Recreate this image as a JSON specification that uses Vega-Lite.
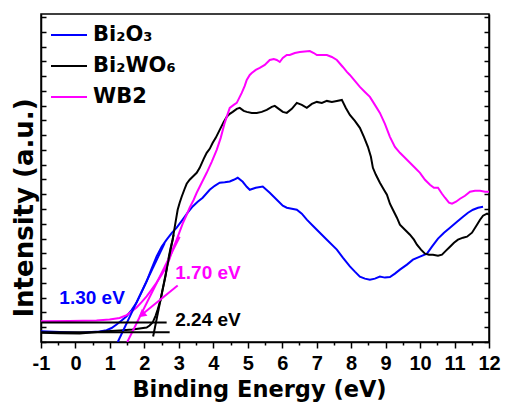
{
  "$schema": "https://vega.github.io/schema/vega-lite/v6.json",
  "width": 448,
  "height": 328,
  "autosize": "none",
  "padding": {"left": 41, "top": 14, "right": 16, "bottom": 61},
  "background": "white",
  "config": {"view": {"stroke": "black", "strokeWidth": 1.5}},
  "datasets": {
    "curves": [
      {"s":"Bi₂O₃","x":-1,"y":3.65},{"s":"Bi₂O₃","x":-0.463,"y":3.38},{"s":"Bi₂O₃","x":0.119,"y":3.11},{"s":"Bi₂O₃","x":0.7,"y":3.55},{"s":"Bi₂O₃","x":0.903,"y":3.99},{"s":"Bi₂O₃","x":1.048,"y":4.73},{"s":"Bi₂O₃","x":1.193,"y":5.91},{"s":"Bi₂O₃","x":1.339,"y":7.26},{"s":"Bi₂O₃","x":1.484,"y":8.72},{"s":"Bi₂O₃","x":1.629,"y":10.81},{"s":"Bi₂O₃","x":1.774,"y":13.34},{"s":"Bi₂O₃","x":1.919,"y":16.89},{"s":"Bi₂O₃","x":2.065,"y":20.54},{"s":"Bi₂O₃","x":2.21,"y":24.83},{"s":"Bi₂O₃","x":2.355,"y":28.99},{"s":"Bi₂O₃","x":2.501,"y":32.26},{"s":"Bi₂O₃","x":2.646,"y":34.63},{"s":"Bi₂O₃","x":2.791,"y":36.82},{"s":"Bi₂O₃","x":2.937,"y":38.68},{"s":"Bi₂O₃","x":3.111,"y":41.39},{"s":"Bi₂O₃","x":3.256,"y":43.75},{"s":"Bi₂O₃","x":3.402,"y":45.88},{"s":"Bi₂O₃","x":3.547,"y":47.47},{"s":"Bi₂O₃","x":3.692,"y":48.82},{"s":"Bi₂O₃","x":3.896,"y":51.52},{"s":"Bi₂O₃","x":4.041,"y":52.87},{"s":"Bi₂O₃","x":4.186,"y":53.89},{"s":"Bi₂O₃","x":4.331,"y":54.05},{"s":"Bi₂O₃","x":4.477,"y":54.32},{"s":"Bi₂O₃","x":4.593,"y":54.9},{"s":"Bi₂O₃","x":4.709,"y":55.57},{"s":"Bi₂O₃","x":4.854,"y":54.22},{"s":"Bi₂O₃","x":4.97,"y":52.53},{"s":"Bi₂O₃","x":5.058,"y":51.52},{"s":"Bi₂O₃","x":5.232,"y":52.2},{"s":"Bi₂O₃","x":5.435,"y":52.64},{"s":"Bi₂O₃","x":5.638,"y":50.51},{"s":"Bi₂O₃","x":5.842,"y":48.14},{"s":"Bi₂O₃","x":6.016,"y":46.11},{"s":"Bi₂O₃","x":6.132,"y":45.44},{"s":"Bi₂O₃","x":6.278,"y":45.1},{"s":"Bi₂O₃","x":6.423,"y":44.76},{"s":"Bi₂O₃","x":6.568,"y":43.41},{"s":"Bi₂O₃","x":6.713,"y":41.39},{"s":"Bi₂O₃","x":6.888,"y":39.36},{"s":"Bi₂O₃","x":7.091,"y":36.99},{"s":"Bi₂O₃","x":7.295,"y":34.63},{"s":"Bi₂O₃","x":7.585,"y":31.25},{"s":"Bi₂O₃","x":7.759,"y":28.55},{"s":"Bi₂O₃","x":7.963,"y":25.61},{"s":"Bi₂O₃","x":8.108,"y":23.82},{"s":"Bi₂O₃","x":8.253,"y":22.13},{"s":"Bi₂O₃","x":8.399,"y":21.45},{"s":"Bi₂O₃","x":8.544,"y":21.11},{"s":"Bi₂O₃","x":8.689,"y":21.45},{"s":"Bi₂O₃","x":8.834,"y":22.13},{"s":"Bi₂O₃","x":8.98,"y":21.79},{"s":"Bi₂O₃","x":9.125,"y":21.96},{"s":"Bi₂O₃","x":9.27,"y":23.14},{"s":"Bi₂O₃","x":9.415,"y":24.49},{"s":"Bi₂O₃","x":9.619,"y":26.18},{"s":"Bi₂O₃","x":9.793,"y":27.87},{"s":"Bi₂O₃","x":9.997,"y":28.89},{"s":"Bi₂O₃","x":10.2,"y":29.9},{"s":"Bi₂O₃","x":10.345,"y":32.26},{"s":"Bi₂O₃","x":10.52,"y":34.97},{"s":"Bi₂O₃","x":10.694,"y":36.99},{"s":"Bi₂O₃","x":10.868,"y":38.68},{"s":"Bi₂O₃","x":11.072,"y":40.71},{"s":"Bi₂O₃","x":11.246,"y":42.4},{"s":"Bi₂O₃","x":11.391,"y":43.75},{"s":"Bi₂O₃","x":11.536,"y":44.76},{"s":"Bi₂O₃","x":11.682,"y":45.44},{"s":"Bi₂O₃","x":11.827,"y":45.78},
      {"s":"Bi₂WO₆","x":-1,"y":3.11},{"s":"Bi₂WO₆","x":-0.463,"y":2.94},{"s":"Bi₂WO₆","x":0.119,"y":2.87},{"s":"Bi₂WO₆","x":0.903,"y":3.65},{"s":"Bi₂WO₆","x":1.281,"y":3.89},{"s":"Bi₂WO₆","x":1.658,"y":4.22},{"s":"Bi₂WO₆","x":1.862,"y":4.56},{"s":"Bi₂WO₆","x":2.065,"y":4.9},{"s":"Bi₂WO₆","x":2.152,"y":5.57},{"s":"Bi₂WO₆","x":2.239,"y":6.59},{"s":"Bi₂WO₆","x":2.327,"y":8.95},{"s":"Bi₂WO₆","x":2.385,"y":10.98},{"s":"Bi₂WO₆","x":2.472,"y":14.36},{"s":"Bi₂WO₆","x":2.53,"y":17.74},{"s":"Bi₂WO₆","x":2.617,"y":22.47},{"s":"Bi₂WO₆","x":2.675,"y":26.86},{"s":"Bi₂WO₆","x":2.762,"y":31.93},{"s":"Bi₂WO₆","x":2.82,"y":34.63},{"s":"Bi₂WO₆","x":2.907,"y":40.71},{"s":"Bi₂WO₆","x":2.966,"y":44.76},{"s":"Bi₂WO₆","x":3.024,"y":47.13},{"s":"Bi₂WO₆","x":3.082,"y":49.16},{"s":"Bi₂WO₆","x":3.169,"y":51.86},{"s":"Bi₂WO₆","x":3.227,"y":53.55},{"s":"Bi₂WO₆","x":3.314,"y":54.9},{"s":"Bi₂WO₆","x":3.431,"y":56.25},{"s":"Bi₂WO₆","x":3.518,"y":57.26},{"s":"Bi₂WO₆","x":3.605,"y":58.95},{"s":"Bi₂WO₆","x":3.721,"y":61.99},{"s":"Bi₂WO₆","x":3.808,"y":64.02},{"s":"Bi₂WO₆","x":3.896,"y":65.37},{"s":"Bi₂WO₆","x":3.983,"y":67.4},{"s":"Bi₂WO₆","x":4.07,"y":69.09},{"s":"Bi₂WO₆","x":4.186,"y":71.79},{"s":"Bi₂WO₆","x":4.302,"y":74.49},{"s":"Bi₂WO₆","x":4.389,"y":76.18},{"s":"Bi₂WO₆","x":4.477,"y":77.2},{"s":"Bi₂WO₆","x":4.564,"y":77.87},{"s":"Bi₂WO₆","x":4.68,"y":78.89},{"s":"Bi₂WO₆","x":4.767,"y":79.22},{"s":"Bi₂WO₆","x":4.883,"y":78.21},{"s":"Bi₂WO₆","x":4.97,"y":77.87},{"s":"Bi₂WO₆","x":5.116,"y":77.53},{"s":"Bi₂WO₆","x":5.261,"y":77.53},{"s":"Bi₂WO₆","x":5.406,"y":77.87},{"s":"Bi₂WO₆","x":5.551,"y":78.55},{"s":"Bi₂WO₆","x":5.697,"y":79.56},{"s":"Bi₂WO₆","x":5.784,"y":79.9},{"s":"Bi₂WO₆","x":5.9,"y":78.89},{"s":"Bi₂WO₆","x":6.016,"y":77.87},{"s":"Bi₂WO₆","x":6.132,"y":77.53},{"s":"Bi₂WO₆","x":6.278,"y":78.89},{"s":"Bi₂WO₆","x":6.423,"y":80.91},{"s":"Bi₂WO₆","x":6.568,"y":80.24},{"s":"Bi₂WO₆","x":6.713,"y":79.22},{"s":"Bi₂WO₆","x":6.859,"y":80.57},{"s":"Bi₂WO₆","x":7.004,"y":81.25},{"s":"Bi₂WO₆","x":7.149,"y":80.91},{"s":"Bi₂WO₆","x":7.295,"y":81.59},{"s":"Bi₂WO₆","x":7.44,"y":81.25},{"s":"Bi₂WO₆","x":7.585,"y":81.59},{"s":"Bi₂WO₆","x":7.73,"y":81.93},{"s":"Bi₂WO₆","x":7.846,"y":79.22},{"s":"Bi₂WO₆","x":7.963,"y":76.86},{"s":"Bi₂WO₆","x":8.108,"y":74.83},{"s":"Bi₂WO₆","x":8.253,"y":72.47},{"s":"Bi₂WO₆","x":8.37,"y":69.43},{"s":"Bi₂WO₆","x":8.486,"y":66.05},{"s":"Bi₂WO₆","x":8.573,"y":62.67},{"s":"Bi₂WO₆","x":8.631,"y":58.95},{"s":"Bi₂WO₆","x":8.718,"y":56.59},{"s":"Bi₂WO₆","x":8.834,"y":53.89},{"s":"Bi₂WO₆","x":8.951,"y":51.52},{"s":"Bi₂WO₆","x":9.038,"y":49.83},{"s":"Bi₂WO₆","x":9.125,"y":46.79},{"s":"Bi₂WO₆","x":9.212,"y":44.76},{"s":"Bi₂WO₆","x":9.328,"y":42.06},{"s":"Bi₂WO₆","x":9.415,"y":39.7},{"s":"Bi₂WO₆","x":9.561,"y":38.01},{"s":"Bi₂WO₆","x":9.706,"y":36.32},{"s":"Bi₂WO₆","x":9.822,"y":34.63},{"s":"Bi₂WO₆","x":9.909,"y":32.94},{"s":"Bi₂WO₆","x":10.026,"y":31.25},{"s":"Bi₂WO₆","x":10.142,"y":29.9},{"s":"Bi₂WO₆","x":10.258,"y":29.56},{"s":"Bi₂WO₆","x":10.374,"y":29.56},{"s":"Bi₂WO₆","x":10.52,"y":29.22},{"s":"Bi₂WO₆","x":10.636,"y":29.56},{"s":"Bi₂WO₆","x":10.752,"y":30.91},{"s":"Bi₂WO₆","x":10.868,"y":32.26},{"s":"Bi₂WO₆","x":10.984,"y":33.61},{"s":"Bi₂WO₆","x":11.1,"y":34.63},{"s":"Bi₂WO₆","x":11.246,"y":35.3},{"s":"Bi₂WO₆","x":11.362,"y":35.64},{"s":"Bi₂WO₆","x":11.507,"y":36.99},{"s":"Bi₂WO₆","x":11.652,"y":39.7},{"s":"Bi₂WO₆","x":11.74,"y":41.39},{"s":"Bi₂WO₆","x":11.827,"y":42.74},{"s":"Bi₂WO₆","x":11.943,"y":43.41},{"s":"Bi₂WO₆","x":12,"y":43.07},
      {"s":"WB2","x":-1,"y":6.99},{"s":"WB2","x":-0.172,"y":7.09},{"s":"WB2","x":0.612,"y":7.26},{"s":"WB2","x":0.99,"y":7.6},{"s":"WB2","x":1.281,"y":8.11},{"s":"WB2","x":1.484,"y":9.12},{"s":"WB2","x":1.629,"y":10.3},{"s":"WB2","x":1.774,"y":11.66},{"s":"WB2","x":1.919,"y":13.51},{"s":"WB2","x":2.065,"y":15.47},{"s":"WB2","x":2.21,"y":17.74},{"s":"WB2","x":2.355,"y":20.1},{"s":"WB2","x":2.501,"y":22.8},{"s":"WB2","x":2.646,"y":25.61},{"s":"WB2","x":2.733,"y":28.21},{"s":"WB2","x":2.82,"y":31.25},{"s":"WB2","x":2.937,"y":34.63},{"s":"WB2","x":3.024,"y":37.33},{"s":"WB2","x":3.111,"y":40.03},{"s":"WB2","x":3.227,"y":43.07},{"s":"WB2","x":3.314,"y":45.44},{"s":"WB2","x":3.431,"y":48.14},{"s":"WB2","x":3.518,"y":50.51},{"s":"WB2","x":3.663,"y":53.89},{"s":"WB2","x":3.808,"y":57.26},{"s":"WB2","x":3.954,"y":60.98},{"s":"WB2","x":4.099,"y":65.03},{"s":"WB2","x":4.215,"y":69.09},{"s":"WB2","x":4.331,"y":74.16},{"s":"WB2","x":4.418,"y":77.2},{"s":"WB2","x":4.477,"y":79.22},{"s":"WB2","x":4.593,"y":80.24},{"s":"WB2","x":4.68,"y":80.91},{"s":"WB2","x":4.767,"y":82.94},{"s":"WB2","x":4.825,"y":84.29},{"s":"WB2","x":4.912,"y":86.66},{"s":"WB2","x":4.97,"y":88.68},{"s":"WB2","x":5.058,"y":90.37},{"s":"WB2","x":5.116,"y":91.05},{"s":"WB2","x":5.232,"y":92.06},{"s":"WB2","x":5.348,"y":92.74},{"s":"WB2","x":5.493,"y":93.75},{"s":"WB2","x":5.638,"y":95.44},{"s":"WB2","x":5.755,"y":95.78},{"s":"WB2","x":5.842,"y":95.44},{"s":"WB2","x":5.929,"y":94.76},{"s":"WB2","x":6.016,"y":96.11},{"s":"WB2","x":6.132,"y":97.13},{"s":"WB2","x":6.219,"y":97.13},{"s":"WB2","x":6.365,"y":97.8},{"s":"WB2","x":6.51,"y":98.14},{"s":"WB2","x":6.655,"y":98.31},{"s":"WB2","x":6.801,"y":98.48},{"s":"WB2","x":6.917,"y":97.8},{"s":"WB2","x":7.004,"y":97.13},{"s":"WB2","x":7.149,"y":97.13},{"s":"WB2","x":7.295,"y":97.13},{"s":"WB2","x":7.44,"y":96.45},{"s":"WB2","x":7.585,"y":95.44},{"s":"WB2","x":7.759,"y":93.07},{"s":"WB2","x":7.876,"y":91.39},{"s":"WB2","x":7.963,"y":90.37},{"s":"WB2","x":8.108,"y":88.34},{"s":"WB2","x":8.253,"y":86.32},{"s":"WB2","x":8.399,"y":84.63},{"s":"WB2","x":8.544,"y":82.94},{"s":"WB2","x":8.689,"y":80.24},{"s":"WB2","x":8.834,"y":77.53},{"s":"WB2","x":8.98,"y":73.82},{"s":"WB2","x":9.125,"y":69.43},{"s":"WB2","x":9.27,"y":66.05},{"s":"WB2","x":9.415,"y":64.02},{"s":"WB2","x":9.561,"y":62.33},{"s":"WB2","x":9.706,"y":60.64},{"s":"WB2","x":9.851,"y":58.95},{"s":"WB2","x":9.997,"y":57.26},{"s":"WB2","x":10.142,"y":54.9},{"s":"WB2","x":10.287,"y":53.21},{"s":"WB2","x":10.403,"y":52.2},{"s":"WB2","x":10.52,"y":52.2},{"s":"WB2","x":10.636,"y":50.17},{"s":"WB2","x":10.723,"y":48.82},{"s":"WB2","x":10.839,"y":47.13},{"s":"WB2","x":10.926,"y":46.79},{"s":"WB2","x":11.043,"y":47.47},{"s":"WB2","x":11.159,"y":48.48},{"s":"WB2","x":11.304,"y":49.49},{"s":"WB2","x":11.449,"y":50.84},{"s":"WB2","x":11.594,"y":51.18},{"s":"WB2","x":11.74,"y":51.18},{"s":"WB2","x":11.885,"y":50.84},{"s":"WB2","x":12,"y":50.84}
    ],
    "fits": [
      {"id":"b_tan","x":1.228,"y":0},{"id":"b_tan","x":2.588,"y":33.45},
      {"id":"p_tan","x":1.504,"y":0},{"id":"p_tan","x":3.024,"y":35.64},
      {"id":"k_tan","x":2.254,"y":1.86},{"id":"k_tan","x":2.849,"y":36.32},
      {"id":"k_base1","x":-1,"y":6.59},{"id":"k_base1","x":2.646,"y":6.59},
      {"id":"k_base2","x":-1,"y":3.28},{"id":"k_base2","x":2.733,"y":3.28}
    ]
  },
  "resolve": {"axis": {"x": "independent", "y": "independent"}},
  "layer": [
    {
      "data": {"name": "curves"},
      "mark": {"type": "line", "strokeWidth": 2, "clip": true},
      "encoding": {
        "x": {"field": "x", "type": "quantitative",
          "scale": {"domain": [-1, 12], "nice": false, "zero": false},
          "axis": {
            "orient": "bottom", "title": "Binding Energy (eV)",
            "values": [-1,0,1,2,3,4,5,6,7,8,9,10,11,12],
            "tickSize": 6,
            "labelExpr": "toString(datum.value)",
            "labelFlush": false, "labelOverlap": false, "labelPadding": 5,
            "labelFont": "Liberation Sans", "labelFontWeight": "bold", "labelFontSize": 20, "labelColor": "black",
            "tickColor": "black", "tickWidth": 1.5, "domainColor": "black", "domainWidth": 1.5, "grid": false,
            "titleFont": "DejaVu Sans", "titleFontWeight": "bold", "titleFontSize": 22.5, "titleColor": "black",
            "titleX": 218, "titleY": 54, "titleBaseline": "alphabetic", "titleAlign": "center"
          }},
        "y": {"field": "y", "type": "quantitative",
          "scale": {"domain": [0, 111], "nice": false, "zero": false},
          "axis": {
            "orient": "left", "title": "Intensity (a.u.)",
            "values": [0,5,10,15,20,25,30,35,40,45,50,55,60,65,70,75,80,85,90,95,100,105,110],
            "labels": false, "tickSize": -5, "tickColor": "black", "tickWidth": 1.5,
            "domainColor": "black", "domainWidth": 1.5, "grid": false,
            "titleFont": "DejaVu Sans", "titleFontWeight": "bold", "titleFontSize": 26, "titleColor": "black",
            "titleX": -9, "titleY": 193.5, "titleBaseline": "alphabetic", "titleAlign": "center", "titleAngle": 270
          }},
        "stroke": {"field": "s", "type": "nominal",
          "scale": {"domain": ["Bi₂O₃", "Bi₂WO₆", "WB2"], "range": ["#0000ff", "#000000", "#ff00ff"]},
          "legend": {
            "orient": "none", "legendX": 9, "legendY": 2, "title": null, "padding": 0,
            "symbolType": "stroke", "symbolSize": 1296, "symbolStrokeWidth": 2,
            "labelFont": "DejaVu Sans", "labelFontWeight": "bold", "labelFontSize": 21, "labelColor": "black",
            "labelOffset": 5, "rowPadding": 2
          }}
      }
    },
    {
      "data": {"name": "curves"},
      "mark": {"type": "point", "opacity": 0},
      "encoding": {
        "x": {"field": "x", "type": "quantitative",
          "axis": {"orient": "bottom", "title": null, "labels": false, "domain": false,
            "values": [-0.5,0.5,1.5,2.5,3.5,4.5,5.5,6.5,7.5,8.5,9.5,10.5,11.5],
            "tickSize": 3, "tickColor": "black", "tickWidth": 1.5, "grid": false}},
        "y": {"field": "y", "type": "quantitative",
          "axis": {"orient": "right", "title": null, "labels": false,
            "values": [0,5,10,15,20,25,30,35,40,45,50,55,60,65,70,75,80,85,90,95,100,105,110],
            "tickSize": -5, "tickColor": "black", "tickWidth": 1.5, "domainColor": "black", "domainWidth": 1.5, "grid": false}}
      }
    },
    {
      "data": {"name": "fits"},
      "transform": [{"filter": "datum.id === 'b_tan'"}],
      "mark": {"type": "line", "color": "#0000ff", "strokeWidth": 2, "clip": true},
      "encoding": {"x": {"field": "x", "type": "quantitative", "axis": null}, "y": {"field": "y", "type": "quantitative", "axis": null}}
    },
    {
      "data": {"name": "fits"},
      "transform": [{"filter": "datum.id === 'p_tan'"}],
      "mark": {"type": "line", "color": "#ff00ff", "strokeWidth": 2, "clip": true},
      "encoding": {"x": {"field": "x", "type": "quantitative", "axis": null}, "y": {"field": "y", "type": "quantitative", "axis": null}}
    },
    {
      "data": {"name": "fits"},
      "transform": [{"filter": "datum.id === 'k_tan' || datum.id === 'k_base1' || datum.id === 'k_base2'"}],
      "mark": {"type": "line", "color": "#000000", "strokeWidth": 2, "clip": true},
      "encoding": {"x": {"field": "x", "type": "quantitative", "axis": null}, "y": {"field": "y", "type": "quantitative", "axis": null}, "detail": {"field": "id", "type": "nominal"}}
    },
    {
      "data": {"values": [{}]},
      "mark": {"type": "rule", "color": "#ff00ff", "strokeWidth": 2},
      "encoding": {"x": {"datum": 2.966, "type": "quantitative", "axis": null}, "y": {"datum": 19.09, "type": "quantitative", "axis": null},
        "x2": {"datum": 1.949}, "y2": {"datum": 9.46}}
    },
    {
      "data": {"values": [{}]},
      "mark": {"type": "point", "shape": "triangle-up", "filled": true, "color": "#ff00ff", "opacity": 1, "size": 80, "angle": 231},
      "encoding": {"x": {"datum": 1.92, "type": "quantitative", "axis": null}, "y": {"datum": 9.2, "type": "quantitative", "axis": null}}
    },
    {
      "data": {"values": [{}]},
      "mark": {"type": "text", "font": "Liberation Sans", "fontWeight": "bold", "fontSize": 19, "color": "#0000ff", "align": "center", "baseline": "alphabetic"},
      "encoding": {"x": {"datum": 0.482, "type": "quantitative", "axis": null}, "y": {"datum": 12.9, "type": "quantitative", "axis": null}, "text": {"value": "1.30 eV"}}
    },
    {
      "data": {"values": [{}]},
      "mark": {"type": "text", "font": "Liberation Sans", "fontWeight": "bold", "fontSize": 19, "color": "#ff00ff", "align": "center", "baseline": "alphabetic"},
      "encoding": {"x": {"datum": 3.846, "type": "quantitative", "axis": null}, "y": {"datum": 21.35, "type": "quantitative", "axis": null}, "text": {"value": "1.70 eV"}}
    },
    {
      "data": {"values": [{}]},
      "mark": {"type": "text", "font": "Liberation Sans", "fontWeight": "bold", "fontSize": 19, "color": "#000000", "align": "center", "baseline": "alphabetic"},
      "encoding": {"x": {"datum": 3.846, "type": "quantitative", "axis": null}, "y": {"datum": 5.34, "type": "quantitative", "axis": null}, "text": {"value": "2.24 eV"}}
    }
  ]
}
